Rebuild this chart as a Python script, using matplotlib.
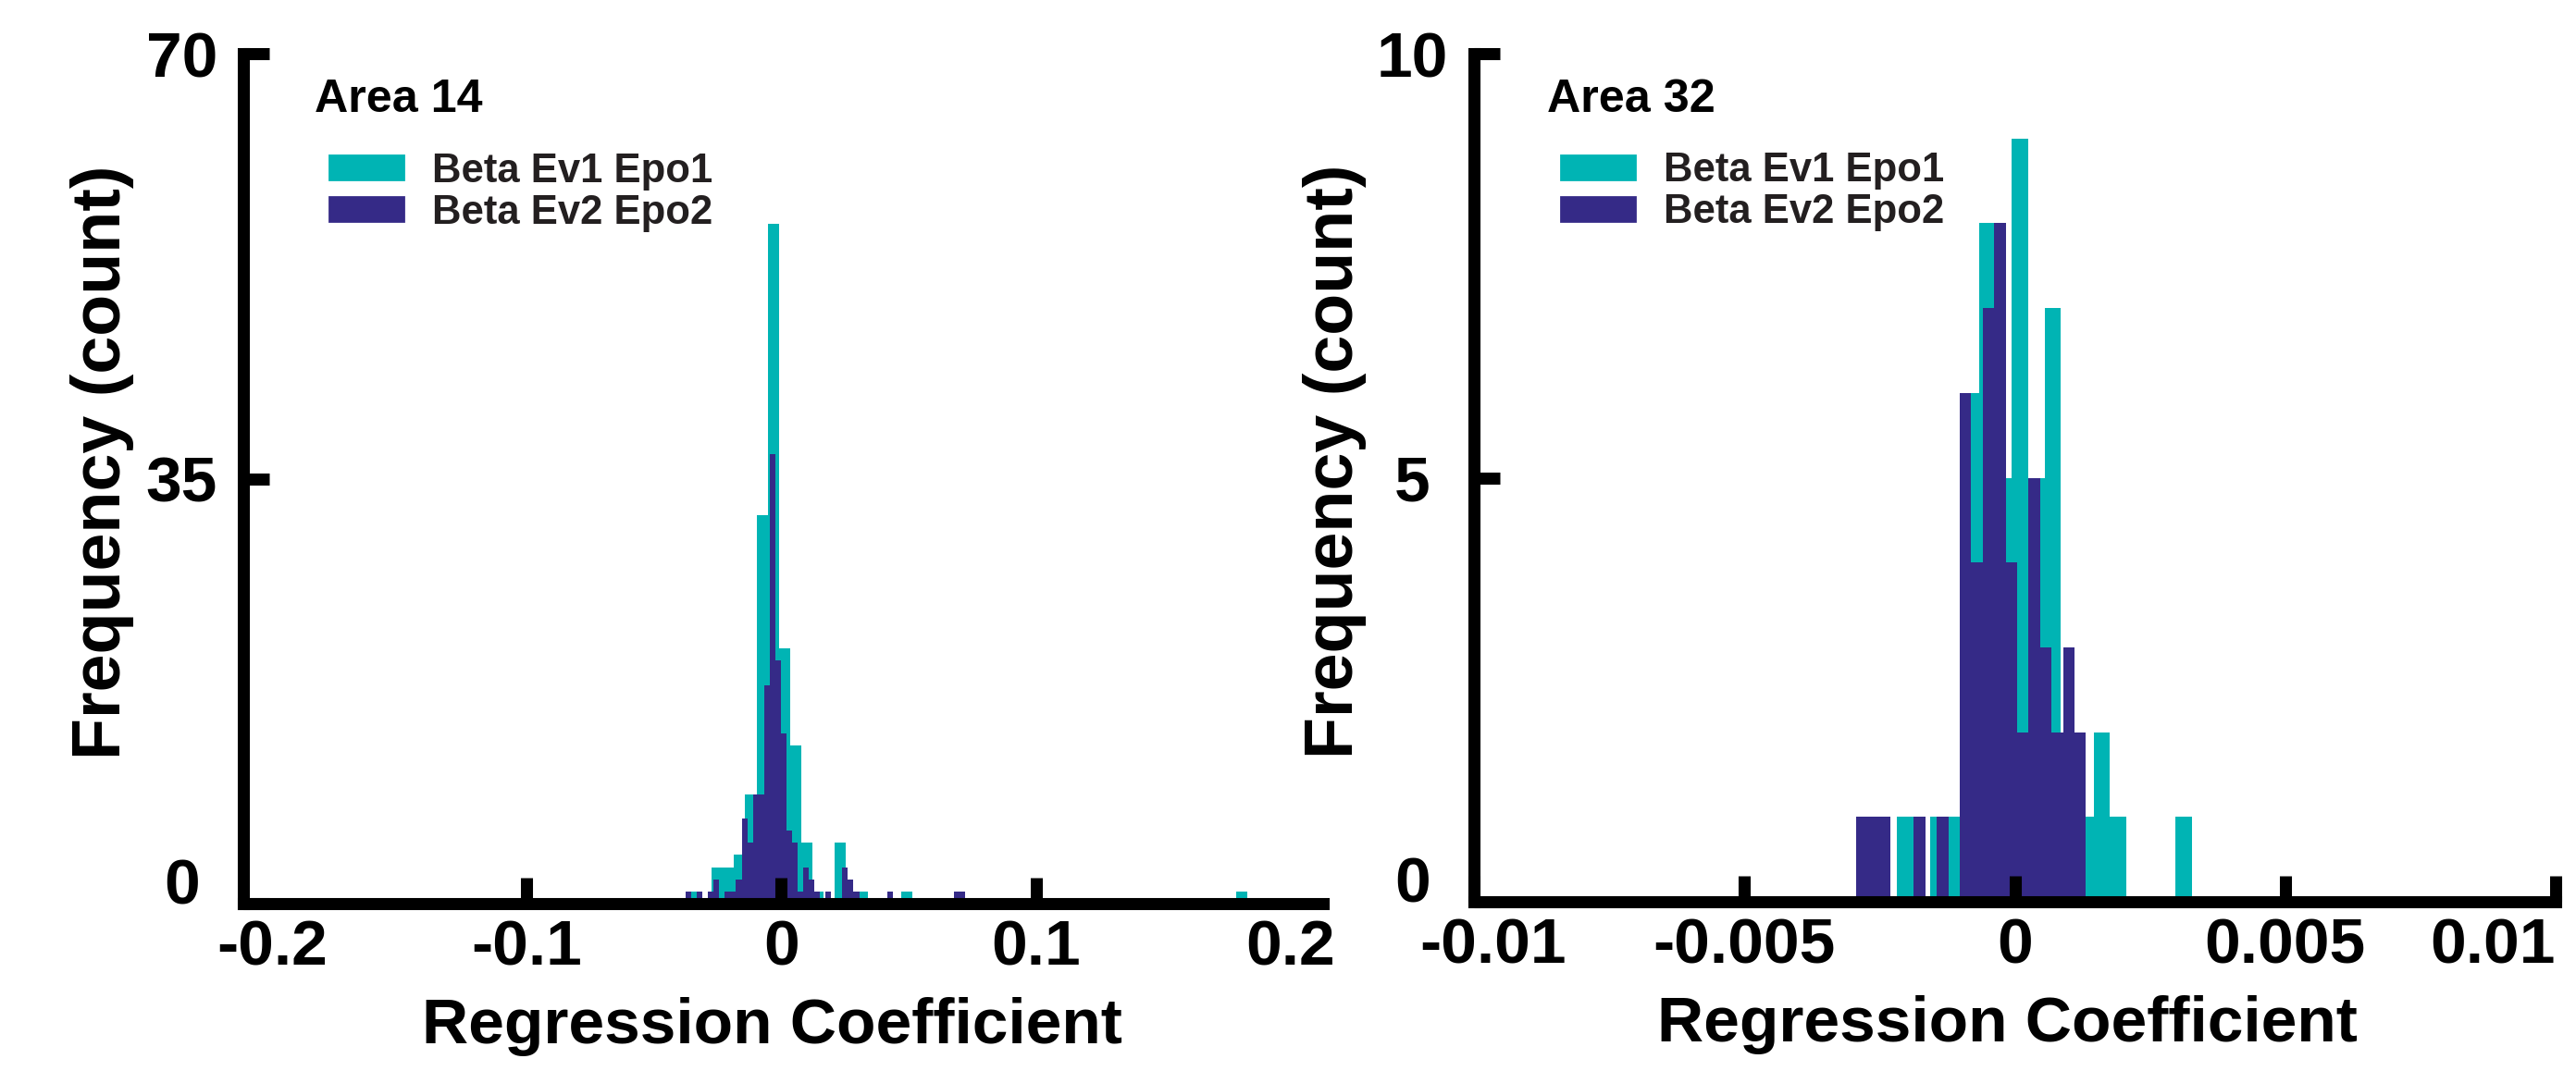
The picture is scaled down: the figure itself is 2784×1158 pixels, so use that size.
import matplotlib
matplotlib.use('Agg')
import matplotlib.pyplot as plt
import matplotlib.transforms as mtransforms
import numpy as np

plt.rcParams['font.family'] = ['Liberation Sans', 'DejaVu Sans']
plt.rcParams['font.weight'] = 'bold'
plt.rcParams['axes.labelweight'] = 'bold'
plt.rcParams['axes.unicode_minus'] = False

CYAN = '#00B4B4'
NAVY = '#352A87'
TEXT = '#231F20'

# Area 14: first bin edge, bin width and counts per bin
a14_ev1_start = -0.03601
a14_ev1_width = 0.004379
a14_ev1_counts = [1, 0, 3, 3, 4, 9, 32, 56, 21, 13,
                  5, 1, 0, 5, 0, 1, 0, 0, 0, 1,
                  0, 0, 0, 0, 0, 0, 0, 0, 0, 0,
                  0, 0, 0, 0, 0, 0, 0, 0, 0, 0,
                  0, 0, 0, 0, 0, 0, 0, 0, 0, 1]
a14_ev2_start = -0.03754
a14_ev2_width = 0.002198
a14_ev2_counts = [1, 0, 1, 0, 1, 2, 0, 1, 1, 2,
                  7, 5, 9, 9, 18, 37, 20, 14, 6, 5,
                  1, 3, 2, 1, 0, 1, 0, 0, 3, 2,
                  1, 0, 0, 0, 0, 0, 1, 0, 0, 0,
                  0, 0, 0, 0, 0, 0, 0, 0, 1, 1]

# Area 32
a32_ev1_start = -0.002173
a32_ev1_width = 0.0003023
a32_ev1_counts = [1, 0, 1, 1, 6, 8, 5, 9, 5, 7, 2, 1, 2, 1, 0, 0, 0, 1]
a32_ev2_start = -0.002931
a32_ev2_width = 0.0002124
a32_ev2_counts = [1, 1, 1, 0, 0, 1, 0, 1, 0, 6, 4, 7, 8, 4, 2, 5, 3, 2, 3, 2]

a14_xticks = [-0.2, -0.1, 0, 0.1, 0.2]
a14_xlabels = ['-0.2', '-0.1', '0', '0.1', '0.2']
a14_yticks = [0, 35, 70]
a32_xticks = [-0.01, -0.005, 0, 0.005, 0.01]
a32_xlabels = ['-0.01', '-0.005', '0', '0.005', '0.01']
a32_yticks = [0, 5, 10]

legend_labels = ['Beta Ev1 Epo1', 'Beta Ev2 Epo2']


def draw_hist(ax, start, width, counts, color):
    edges = start + width * np.arange(len(counts))
    ax.bar(edges, counts, width=width, align='edge', color=color,
           linewidth=0)


def style_axes(ax, xticks, xlabels, yticks, xlim, ylim, hide_x_end_ticks):
    ax.set_xlim(xlim)
    ax.set_ylim(ylim)
    for side in ['top', 'right']:
        ax.spines[side].set_visible(False)
    for side in ['left', 'bottom']:
        ax.spines[side].set_linewidth(4.7)
        ax.spines[side].set_capstyle('projecting')
    ax.set_xticks(xticks)
    ax.set_xticklabels(xlabels)
    ax.set_yticks(yticks)
    ax.set_yticklabels([str(t) for t in yticks])
    ax.tick_params(direction='in', length=10, width=4.7, labelsize=25)
    ax.tick_params(axis='x', pad=6)
    ax.tick_params(axis='y', pad=24)
    for lab in ax.get_yticklabels():
        lab.set_horizontalalignment('center')
    ax.get_yticklabels()[0].set_verticalalignment('baseline')
    if hide_x_end_ticks:
        ticks = ax.xaxis.get_major_ticks()
        ticks[0].tick1line.set_visible(False)
        ticks[-1].tick1line.set_visible(False)
    ax.set_xlabel('Regression Coefficient', fontsize=25, fontweight='bold',
                  va='center')
    ax.set_ylabel('Frequency (count)', fontsize=26.5, fontweight='bold',
                  va='center')


fig = plt.figure(figsize=(13.92, 5.79), dpi=200)

# left panel: Area 14
ax1 = fig.add_axes([0.09447, 0.1563, 0.4192, 0.7936])
draw_hist(ax1, a14_ev1_start, a14_ev1_width, a14_ev1_counts, CYAN)
draw_hist(ax1, a14_ev2_start, a14_ev2_width, a14_ev2_counts, NAVY)
style_axes(ax1, a14_xticks, a14_xlabels, a14_yticks,
           (-0.2112, 0.2128), (0, 70), True)
ax1.xaxis.set_label_coords(0.490, -0.1447)
ax1.yaxis.set_label_coords(-0.131, 0.519)

# right panel: Area 32
ax2 = fig.add_axes([0.5722, 0.1580, 0.4199, 0.7919])
draw_hist(ax2, a32_ev1_start, a32_ev1_width, a32_ev1_counts, CYAN)
draw_hist(ax2, a32_ev2_start, a32_ev2_width, a32_ev2_counts, NAVY)
style_axes(ax2, a32_xticks, a32_xlabels, a32_yticks,
           (-0.01, 0.01), (0, 10), False)
ax2.get_xticklabels()[-1].set_horizontalalignment('right')
first = ax2.get_xticklabels()[0]
first.set_transform(first.get_transform() +
                    mtransforms.ScaledTranslation(0.1, 0, fig.dpi_scale_trans))
ax2.xaxis.set_label_coords(0.493, -0.1447)
ax2.yaxis.set_label_coords(-0.129, 0.519)

# titles and legends
for ax, title, tx, lx in [(ax1, 'Area 14', 0.066, 0.0797),
                          (ax2, 'Area 32', 0.0676, 0.0804)]:
    ax.text(tx, 0.9456, title, transform=ax.transAxes, fontsize=18.1,
            va='center', ha='left', color='black')
    handles = [plt.Rectangle((0, 0), 1, 1, color=CYAN),
               plt.Rectangle((0, 0), 1, 1, color=NAVY)]
    leg = ax.legend(handles, legend_labels, loc='upper left',
                    bbox_to_anchor=(lx, 0.884), frameon=False,
                    fontsize=15.7, handlelength=1.83, handleheight=0.53,
                    handletextpad=0.71, labelspacing=0.09, borderpad=0,
                    borderaxespad=0)
    for t in leg.get_texts():
        t.set_color(TEXT)

fig.savefig('out.png', dpi=200)
